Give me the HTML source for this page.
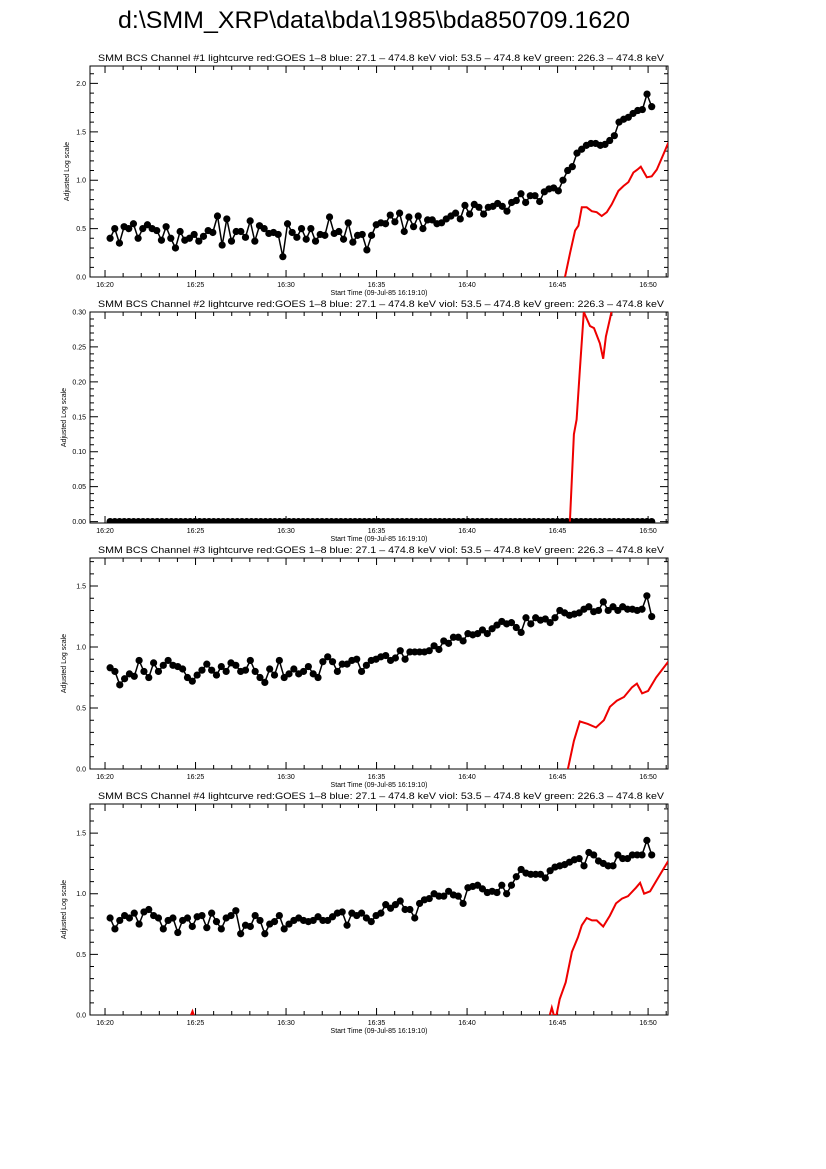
<!DOCTYPE html>
<html><head><meta charset="utf-8"><style>
body{margin:0;background:#fff}
svg{display:block}
text{font-family:"Liberation Sans",sans-serif;fill:#000}
</style></head><body>
<svg id="chart" width="826" height="1169" viewBox="0 0 826 1169" xmlns="http://www.w3.org/2000/svg">
<rect width="826" height="1169" fill="#fff"/>
<text x="118" y="28" font-size="24" textLength="512" lengthAdjust="spacingAndGlyphs">d:\SMM_XRP\data\bda\1985\bda850709.1620</text>
</svg>
<script>
// minutes relative to 16:20
const xTickLabels = ["16:20","16:25","16:30","16:35","16:40","16:45","16:50"];
const xTickValues = [0,5,10,15,20,25,30];
const ch1Values = [0.40,0.50,0.35,0.52,0.50,0.55,0.40,0.50,0.54,0.50,0.48,0.38,0.52,0.40,0.30,0.47,0.38,0.40,0.44,0.37,0.42,0.48,0.46,0.63,0.33,0.60,0.37,0.47,0.47,0.41,0.58,0.37,0.53,0.50,0.45,0.46,0.44,0.21,0.55,0.46,0.41,0.50,0.39,0.50,0.37,0.44,0.43,0.62,0.45,0.47,0.39,0.56,0.36,0.43,0.44,0.28,0.43,0.54,0.56,0.55,0.64,0.57,0.66,0.47,0.62,0.52,0.63,0.50,0.59,0.59,0.55,0.56,0.60,0.63,0.66,0.60,0.74,0.65,0.75,0.72,0.65,0.72,0.73,0.76,0.73,0.68,0.77,0.79,0.86,0.77,0.84,0.84,0.78,0.88,0.91,0.92,0.89,1.00,1.10,1.14,1.28,1.32,1.36,1.38,1.38,1.36,1.37,1.41,1.46,1.60,1.63,1.65,1.69,1.72,1.73,1.89,1.76];
const ch2Values = [0,0,0,0,0,0,0,0,0,0,0,0,0,0,0,0,0,0,0,0,0,0,0,0,0,0,0,0,0,0,0,0,0,0,0,0,0,0,0,0,0,0,0,0,0,0,0,0,0,0,0,0,0,0,0,0,0,0,0,0,0,0,0,0,0,0,0,0,0,0,0,0,0,0,0,0,0,0,0,0,0,0,0,0,0,0,0,0,0,0,0,0,0,0,0,0,0,0,0,0,0,0,0,0,0,0,0,0,0,0,0,0,0,0,0,0];
const ch3Values = [0.83,0.80,0.69,0.74,0.78,0.76,0.89,0.80,0.75,0.87,0.80,0.85,0.89,0.85,0.84,0.82,0.75,0.72,0.77,0.81,0.86,0.81,0.77,0.84,0.80,0.87,0.85,0.80,0.81,0.89,0.80,0.75,0.71,0.82,0.77,0.89,0.75,0.78,0.82,0.78,0.80,0.84,0.78,0.75,0.88,0.92,0.88,0.80,0.86,0.86,0.89,0.90,0.80,0.85,0.89,0.90,0.92,0.93,0.89,0.91,0.97,0.90,0.96,0.96,0.96,0.96,0.97,1.01,0.98,1.05,1.03,1.08,1.08,1.05,1.11,1.10,1.11,1.14,1.11,1.15,1.18,1.21,1.19,1.20,1.16,1.12,1.24,1.19,1.24,1.22,1.23,1.20,1.24,1.30,1.28,1.26,1.27,1.28,1.31,1.33,1.29,1.30,1.37,1.30,1.33,1.30,1.33,1.31,1.31,1.30,1.31,1.42,1.25];
const ch4Values = [0.80,0.71,0.78,0.82,0.80,0.84,0.75,0.85,0.87,0.82,0.80,0.71,0.78,0.80,0.68,0.78,0.80,0.73,0.81,0.82,0.72,0.84,0.77,0.71,0.80,0.82,0.86,0.67,0.74,0.73,0.82,0.78,0.67,0.75,0.77,0.82,0.71,0.75,0.78,0.80,0.78,0.77,0.78,0.81,0.78,0.78,0.81,0.84,0.85,0.74,0.84,0.82,0.84,0.80,0.77,0.82,0.84,0.91,0.88,0.91,0.94,0.87,0.87,0.80,0.92,0.95,0.96,1.00,0.98,0.98,1.02,0.99,0.98,0.92,1.05,1.06,1.07,1.04,1.01,1.02,1.01,1.07,1.00,1.07,1.14,1.20,1.17,1.16,1.16,1.16,1.13,1.19,1.22,1.23,1.24,1.26,1.28,1.29,1.23,1.34,1.32,1.27,1.25,1.23,1.23,1.32,1.29,1.29,1.32,1.32,1.32,1.44,1.32];
const goes1Times = [25.41,25.69,25.97,26.15,26.34,26.61,26.89,27.16,27.44,27.72,27.99,28.36,28.64,28.91,29.19,29.41,29.60,29.93,30.20,30.48,30.85,31.12];
const goes1Values = [0,0.25,0.48,0.53,0.72,0.72,0.68,0.67,0.63,0.67,0.75,0.89,0.94,0.98,1.08,1.11,1.14,1.03,1.04,1.11,1.27,1.39];
const goes2Times = [25.68,25.90,26.05,26.23,26.45,26.79,27.01,27.34,27.52,27.67,27.89,28.00,28.20];
const goes2Values = [0,0.125,0.146,0.216,0.30,0.28,0.277,0.255,0.233,0.265,0.29,0.303,0.40];
const goes3Times = [25.57,25.90,26.23,26.67,27.12,27.56,27.89,28.27,28.67,29.11,29.38,29.67,30.00,30.44,31.11];
const goes3Values = [0,0.23,0.39,0.37,0.34,0.40,0.51,0.56,0.59,0.67,0.70,0.62,0.64,0.75,0.88];
const goes4Times = [4.75,4.83,4.90,null,24.57,24.68,24.79,24.94,25.12,25.45,25.79,26.12,26.34,26.61,26.90,27.16,27.52,27.89,28.23,28.56,28.89,29.33,29.56,29.78,30.11,30.55,31.11];
const goes4Values = [0,0.03,0,null,0,0.06,0,0,0.13,0.27,0.52,0.64,0.74,0.80,0.78,0.78,0.73,0.82,0.92,0.96,0.98,1.05,1.09,1.00,1.02,1.13,1.27];

const NS="http://www.w3.org/2000/svg";
const svg=document.getElementById('chart');
const X0=90,X1=668,TMIN=-0.83,TMAX=31.1;
const xs=t=>X0+(t-TMIN)/(TMAX-TMIN)*(X1-X0);
function mk(tag,attrs,parent){const e=document.createElementNS(NS,tag);for(const k in attrs)e.setAttribute(k,attrs[k]);(parent||svg).appendChild(e);return e;}

const panels=[
 {n:1,top:66,ymin:0,ymax:2.18,major:0.5,minor:0.1,fmt:1,vals:ch1Values,gt:goes1Times,gv:goes1Values},
 {n:2,top:312,ymin:-0.002,ymax:0.30,major:0.05,minor:0.01,fmt:2,vals:ch2Values,gt:goes2Times,gv:goes2Values},
 {n:3,top:558,ymin:0,ymax:1.73,major:0.5,minor:0.1,fmt:1,vals:ch3Values,gt:goes3Times,gv:goes3Values},
 {n:4,top:804,ymin:0,ymax:1.74,major:0.5,minor:0.1,fmt:1,vals:ch4Values,gt:goes4Times,gv:goes4Values}
];
const H=211;
panels.forEach(p=>{
 const g=mk('g',{});
 
 
 const bot=p.top+H;
 const ys=v=>bot-(v-p.ymin)/(p.ymax-p.ymin)*H;
 const t=mk('text',{x:98,y:p.top-5,'font-size':9.5,textLength:566,lengthAdjust:'spacingAndGlyphs'},g);
 
 
 t.textContent='SMM BCS Channel #'+p.n+' lightcurve  red:GOES 1\u20138  blue: 27.1 \u2013 474.8 keV  viol: 53.5 \u2013 474.8 keV  green: 226.3 \u2013 474.8 keV';
 const cp=mk('clipPath',{id:'cp'+p.n},g);
 mk('rect',{x:X0,y:p.top,width:X1-X0,height:H},cp);
 // ticks
 let d='';
 for(let m=-0;m<=31;m++){const x=xs(m);const L=(m%5===0)?7:4;d+=`M${x},${bot}v${-L}M${x},${p.top}v${L}`;}
 const nMin=Math.round((p.ymax-p.ymin)/p.minor)+1;
 for(let i=0;i<=nMin;i++){const v=i*p.minor;if(v>p.ymax+1e-9)break;const y=ys(v);const maj=Math.abs(v/p.major-Math.round(v/p.major))<1e-6;const L=maj?8:4;d+=`M${X0},${y}h${L}M${X1},${y}h${-L}`;
  if(maj){const lt=mk('text',{x:X0-4,y:y+2.5,'font-size':7,'text-anchor':'end'},g);
   
   
   lt.textContent=v.toFixed(p.fmt);}}
 mk('path',{d:d,stroke:'#000','stroke-width':1,fill:'none'},g);
 xTickValues.forEach((v,i)=>{const lt=mk('text',{x:xs(v),y:bot+10,'font-size':7,'text-anchor':'middle'},g);
  
  
  lt.textContent=xTickLabels[i];});
 const xl=mk('text',{x:379,y:bot+18,'font-size':7,'text-anchor':'middle'},g);
 
 
 xl.textContent='Start Time (09-Jul-85 16:19:10)';
 const yl=mk('text',{x:0,y:0,'font-size':7,'text-anchor':'middle',transform:`translate(${p.n===1?69:66},${p.top+H/2}) rotate(-90)`},g);
 
 
 yl.textContent='Adjusted Log scale';
 const frame=mk('rect',{x:X0,y:p.top,width:X1-X0,height:H,fill:'none',stroke:'#000','stroke-width':1},g);
 
 
 // data
 const dg=mk('g',{'clip-path':`url(#cp${p.n})`},g);
 const n=p.vals.length,t0=0.28,t1=30.2;
 const tt=i=>t0+i*(t1-t0)/(n-1);
 let pd='';p.vals.forEach((v,i)=>{pd+=(i?'L':'M')+xs(tt(i)).toFixed(1)+','+ys(v).toFixed(1);});
 const bl=mk('path',{d:pd,stroke:'#000','stroke-width':1.5,fill:'none'},dg);
 
 
 p.vals.forEach((v,i)=>{const c=mk('circle',{cx:xs(tt(i)),cy:ys(v),r:3.6,fill:'#000'},dg);
  
  });
 let rd='',pen=false;
 p.gt.forEach((tv,i)=>{if(tv===null){pen=false;return;}rd+=(pen?'L':'M')+xs(tv).toFixed(1)+','+ys(p.gv[i]).toFixed(1);pen=true;});
 const rl=mk('path',{d:rd,stroke:'#ee0000','stroke-width':2,fill:'none'},dg);
 
 
});
</script>
</body></html>
